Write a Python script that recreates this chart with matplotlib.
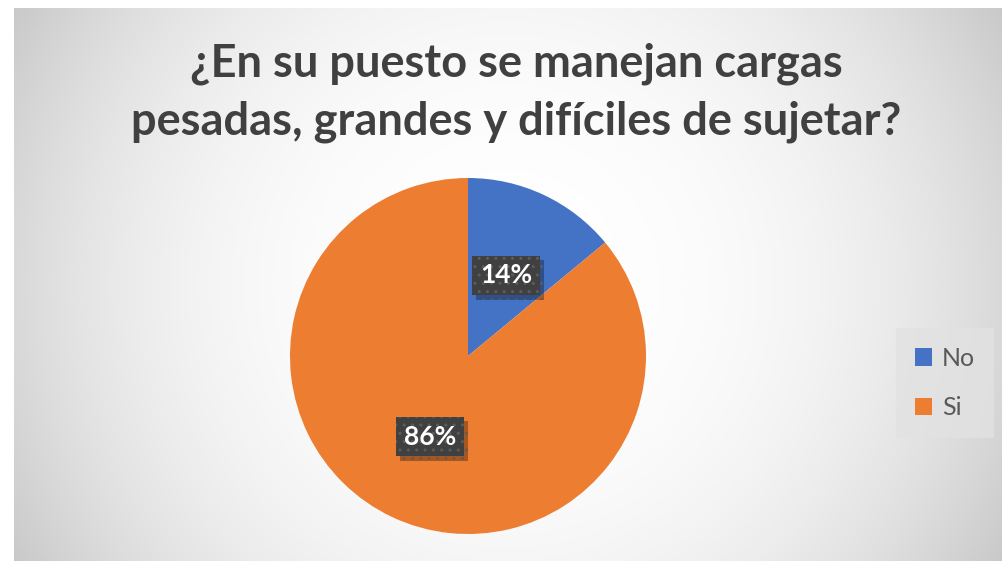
import matplotlib
matplotlib.use("Agg")
import matplotlib.pyplot as plt
import matplotlib.patheffects as pe
import numpy as np

# Data
labels = ["No", "Si"]
values = [14, 86]
colors = ["#4472C4", "#ED7D31"]
title = "¿En su puesto se manejan cargas\npesadas, grandes y difíciles de sujetar?"

plt.rcParams["font.family"] = ["Lato", "DejaVu Sans"]
plt.rcParams["hatch.linewidth"] = 1.0

W, H = 1003, 561
fig = plt.figure(figsize=(W / 100, H / 100), dpi=100)

# Background: radial gradient panel, white margin on left/top
bg_left, bg_top = 14 / W, 8 / H
bg = fig.add_axes([bg_left, 0, 1 - bg_left, 1 - bg_top])
yy, xx = np.mgrid[0:1:300j, 0:1:500j]
r = np.sqrt((xx - 0.5) ** 2 + ((yy - 0.5) * 0.56) ** 2)
shade = np.clip(1 - 0.85 * r ** 2.5, 0, 1)
bg.imshow(np.dstack([shade] * 3), extent=[0, 1, 0, 1], aspect="auto", origin="lower")
bg.set_axis_off()

fig.text(516 / W, 1 - 93 / H, title, ha="center", va="center", fontsize=32.5,
         fontweight="bold", color="#404040", linespacing=1.45)

# Pie axes
cx, cy, rad = 468, 356, 178
ax = fig.add_axes([(cx - rad) / W, (H - cy - rad) / H, 2 * rad / W, 2 * rad / H])
wedges, texts, autotexts = ax.pie(
    values, colors=colors, startangle=90, counterclock=False,
    autopct="%1.0f%%", pctdistance=0.5, radius=1,
    wedgeprops=dict(linewidth=0),
    textprops=dict(color="white", fontsize=19, fontweight="bold"),
)
for t in autotexts:
    t.set_bbox(dict(boxstyle="square,pad=0.3", fc="#404040", ec="#5c5c5c",
                    lw=0, hatch=".."))
    t.get_bbox_patch().set_path_effects(
        [pe.SimplePatchShadow(offset=(3, -3), shadow_rgbFace="#000000", alpha=0.3),
         pe.Normal()])
ax.set_xlim(-1, 1)
ax.set_ylim(-1, 1)
ax.set_axis_off()

leg = fig.legend(wedges, labels, loc="center left",
                 bbox_to_anchor=(896 / W, 1 - 383 / H), frameon=True,
                 fontsize=18, handlelength=0.7, handleheight=0.7,
                 labelspacing=1.05, borderpad=0.75, fancybox=False,
                 handletextpad=0.4, borderaxespad=0)
leg.get_frame().set_facecolor("#e2e2e2")
leg.get_frame().set_edgecolor("none")
for t in leg.get_texts():
    t.set_color("#595959")

fig.savefig("out.png", dpi=100)
